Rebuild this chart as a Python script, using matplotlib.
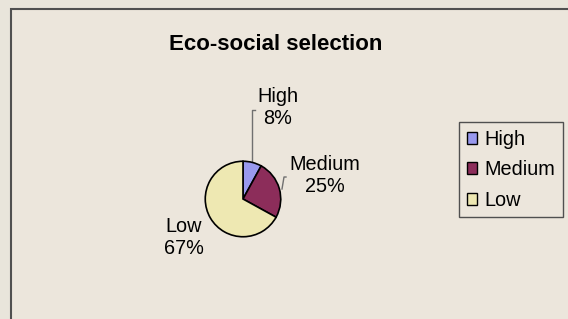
import matplotlib.pyplot as plt
from matplotlib.patches import Rectangle

plt.rcParams.update({'font.family': ['Liberation Sans', 'DejaVu Sans']})

title = 'Eco-social selection'
categories = ['High', 'Medium', 'Low']
shares = [8, 25, 67]
colors = ['#9999EE', '#8C2D5A', '#EEE8B2']

W, H = 568, 319
fig = plt.figure(figsize=(W / 100, H / 100), dpi=100)
fig.patch.set_facecolor('#E9E5DB')

# overlay in pixel coordinates (y downwards)
ov = fig.add_axes([0, 0, 1, 1])
ov.set_xlim(0, W)
ov.set_ylim(H, 0)
ov.axis('off')
ov.add_patch(Rectangle((11, 9), W + 10, H + 10, facecolor='#ECE6DC',
                       edgecolor='#505050', linewidth=1.5, zorder=0))
ov.text(276, 45, title, ha='center', va='center', fontsize=16, fontweight='bold')

# pie
cx, cy, r = 243, 199, 38.5
pax = fig.add_axes([(cx - r) / W, (H - cy - r) / H, 2 * r / W, 2 * r / H])
wedges, _ = pax.pie(shares, colors=colors, startangle=90, counterclock=False,
                    radius=1, frame=True,
                    wedgeprops=dict(edgecolor='black', linewidth=1.2))
pax.set_xlim(-1.02, 1.02)
pax.set_ylim(-1.02, 1.02)
pax.axis('off')

# data labels
label_pos = [(278, 107), (325, 175), (184, 238)]
for name, val, (x, y) in zip(categories, shares, label_pos):
    ov.text(x, y, f'{name}\n{val}%', ha='center', va='center', fontsize=14.3,
            linespacing=1.2, zorder=5)

# leader lines
ov.plot([255, 252, 252], [110, 110, 161], color='#707070', lw=1, zorder=5)
ov.plot([286, 284, 282], [177, 177, 189], color='#707070', lw=1, zorder=5)

# legend
leg = fig.legend(wedges, categories, loc='upper left',
                 bbox_to_anchor=(459 / W, 1 - 122 / H),
                 fontsize=14.3, frameon=True, fancybox=False,
                 edgecolor='#505050', facecolor='#ECE6DC', framealpha=1,
                 handlelength=0.55, handleheight=0.55, handletextpad=0.35,
                 labelspacing=0.58, borderpad=0.38, borderaxespad=0)
leg.get_frame().set_linewidth(1)
for h in leg.legend_handles:
    h.set_linewidth(1)

fig.savefig('out.png', dpi=100, facecolor=fig.get_facecolor())
